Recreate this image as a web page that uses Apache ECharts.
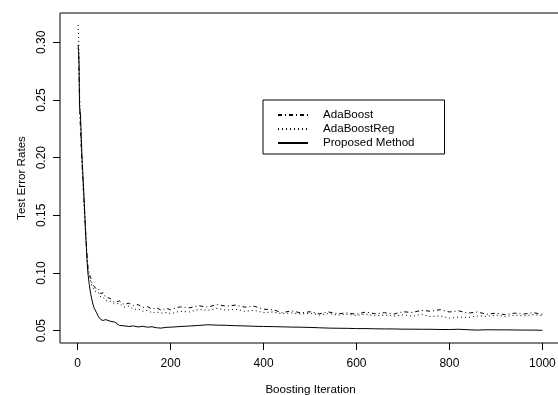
<!DOCTYPE html>
<html><head><meta charset="utf-8">
<script src="https://cdn.jsdelivr.net/npm/echarts@6/dist/echarts.min.js"></script>
<style>html,body{margin:0;padding:0;background:#fff}#c{width:558px;height:395px}</style>
</head><body><div id="c"></div>
<script>
var iterations = [1,2,3,4,5,6,8,10,12,14,16,18,20,22,25,28,31,35,40,45,50,55,60,70,80,90,100,110,120,130,140,150,160,170,180,190,200,220,240,260,280,300,320,340,360,380,400,420,440,460,480,500,520,540,560,580,600,620,640,660,680,700,720,740,760,780,800,820,840,860,880,900,920,940,960,980,1000];
var adaBoost = [0.298,0.29,0.27,0.25,0.235,0.225,0.205,0.19,0.175,0.16,0.145,0.13,0.117,0.106,0.099,0.096,0.091,0.090,0.086,0.086,0.082,0.083,0.079,0.078,0.0745,0.0758,0.0728,0.0738,0.0718,0.0726,0.0702,0.0708,0.0688,0.0698,0.0676,0.0694,0.0682,0.0706,0.0698,0.0716,0.0704,0.0726,0.0712,0.0722,0.0704,0.0712,0.0686,0.0682,0.0656,0.0672,0.0654,0.0664,0.0646,0.0662,0.0646,0.0654,0.0642,0.0662,0.0646,0.0656,0.0644,0.0664,0.0658,0.0676,0.0668,0.0682,0.0662,0.0672,0.0652,0.0662,0.0642,0.0652,0.0638,0.0652,0.0644,0.0656,0.0642];
var adaBoostReg = [0.315,0.305,0.285,0.26,0.24,0.228,0.208,0.19,0.172,0.156,0.14,0.126,0.114,0.104,0.097,0.093,0.088,0.087,0.083,0.083,0.079,0.079,0.076,0.0755,0.0732,0.0735,0.0705,0.0712,0.0684,0.0688,0.0668,0.0676,0.0654,0.0662,0.0652,0.0658,0.0648,0.0668,0.0662,0.0684,0.0676,0.0694,0.0678,0.0686,0.0668,0.0676,0.0656,0.0662,0.0646,0.0654,0.0644,0.0652,0.0636,0.0648,0.0634,0.0642,0.0632,0.0644,0.0628,0.0636,0.0626,0.0638,0.0624,0.0642,0.0622,0.0628,0.0608,0.0618,0.0614,0.0628,0.0624,0.0636,0.0622,0.0634,0.0628,0.0638,0.0632];
var proposed = [0.295,0.293,0.28,0.245,0.24,0.238,0.215,0.195,0.18,0.163,0.145,0.128,0.112,0.100,0.090,0.082,0.076,0.070,0.066,0.062,0.0595,0.0588,0.0596,0.0582,0.0574,0.0545,0.0542,0.0536,0.0541,0.0532,0.0538,0.053,0.0534,0.0525,0.0522,0.0529,0.053,0.0536,0.054,0.0545,0.0551,0.0548,0.0546,0.0543,0.0541,0.0538,0.0536,0.0535,0.0533,0.0531,0.053,0.0528,0.0525,0.0522,0.0521,0.052,0.0518,0.0518,0.0516,0.0515,0.0515,0.0513,0.0513,0.0512,0.0512,0.051,0.051,0.0512,0.0508,0.0505,0.0508,0.0507,0.0507,0.0506,0.0505,0.0505,0.0503];
var xTicks = [0,200,400,600,800,1000];
var yTicks = [0.05,0.10,0.15,0.20,0.25,0.30];

function pairs(ys){ return iterations.map(function(x,i){ return [x, ys[i]]; }); }
var font = "'Liberation Sans', Arial, sans-serif";
var chart = echarts.init(document.getElementById('c'), null, {renderer:'canvas'});
chart.setOption({
  animation:false,
  backgroundColor:'#fff',
  textStyle:{fontFamily:font,color:'#000'},
  grid:{left:60,top:13,width:501,height:330,containLabel:false,outerBoundsMode:'none',show:true,borderColor:'#000',borderWidth:1,backgroundColor:'transparent'},
  legend:{
    orient:'vertical',left:263,top:100,
    padding:[8,30,4,14],itemGap:0,itemWidth:30,itemHeight:10,
    borderColor:'#000',borderWidth:1,
    itemStyle:{opacity:0},
    textStyle:{fontFamily:font,fontSize:11.6,lineHeight:14,color:'#000',padding:[0,0,0,10]},
    data:['AdaBoost','AdaBoostReg','Proposed Method']
  },
  xAxis:{
    type:'value',min:-38,max:1040,
    name:'Boosting Iteration',nameLocation:'middle',nameGap:41,
    nameTextStyle:{fontFamily:font,fontSize:11.6,color:'#000'},
    axisLine:{show:false,onZero:false},
    splitLine:{show:false},
    axisTick:{show:true,inside:false,length:7,customValues:xTicks,lineStyle:{color:'#000'}},
    axisLabel:{customValues:xTicks,margin:15,fontFamily:font,fontSize:12,color:'#000',
      formatter:function(v){return String(v);}}
  },
  yAxis:{
    type:'value',min:0.0393,max:0.3254,
    name:'Test Error Rates',nameLocation:'middle',nameGap:32,
    nameTextStyle:{fontFamily:font,fontSize:11.6,color:'#000'},
    axisLine:{show:false,onZero:false},
    splitLine:{show:false},
    axisTick:{show:true,inside:false,length:7,customValues:yTicks,lineStyle:{color:'#000'}},
    axisLabel:{customValues:yTicks,rotate:90,margin:12,fontFamily:font,fontSize:12,color:'#000',
      formatter:function(v){return v.toFixed(2);}}
  },
  series:[
    {name:'AdaBoost',type:'line',symbol:'none',data:pairs(adaBoost),
      lineStyle:{color:'#000',width:1,type:[4,3,1,3]},itemStyle:{color:'#000'}},
    {name:'AdaBoostReg',type:'line',symbol:'none',data:pairs(adaBoostReg),
      lineStyle:{color:'#000',width:1,type:[1,3]},itemStyle:{color:'#000'}},
    {name:'Proposed Method',type:'line',symbol:'none',data:pairs(proposed),
      lineStyle:{color:'#000',width:1,type:'solid'},itemStyle:{color:'#000'}}
  ]
});
</script></body></html>
